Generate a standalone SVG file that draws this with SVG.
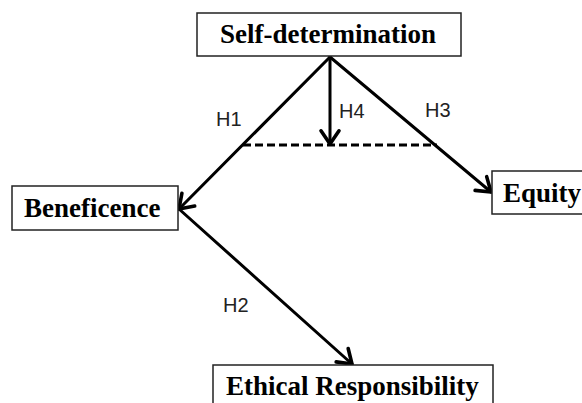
<svg xmlns="http://www.w3.org/2000/svg" width="582" height="403" viewBox="0 0 582 403">
<style>
.box{fill:#fff;stroke:#222;stroke-width:1.5}
.lbl{font-family:"Liberation Serif","Times New Roman",serif;font-weight:bold;font-size:27px;fill:#000}
.h{font-family:"Liberation Sans",Arial,sans-serif;font-size:20px;fill:#222}
.c{stroke:#000;stroke-width:3;fill:none;stroke-linecap:round}
.d{stroke:#000;stroke-width:3;fill:none;stroke-dasharray:8 4}
</style>
<defs>
<marker id="arr" markerUnits="userSpaceOnUse" markerWidth="24" markerHeight="24" viewBox="-14 -10 16 20" refX="0" refY="0" orient="auto">
<path d="M-11,-7.5 L0,0 L-11,7.5" fill="none" stroke="#000" stroke-width="3" stroke-linecap="round" stroke-linejoin="round"/>
</marker>
</defs>
<rect width="582" height="403" fill="#fff"/>
<g id="connectors">
<line class="c" x1="330" y1="57" x2="179" y2="209" marker-end="url(#arr)"/>
<line class="c" x1="330" y1="57" x2="491" y2="192" marker-end="url(#arr)"/>
<line class="c" x1="330" y1="57" x2="330" y2="144" marker-end="url(#arr)"/>
<line class="c" x1="179" y1="209" x2="352" y2="364" marker-end="url(#arr)"/>
<line class="d" x1="243" y1="145" x2="437" y2="145"/>
<text class="h" x="216" y="126">H1</text>
<text class="h" x="339" y="118">H4</text>
<text class="h" x="425" y="117">H3</text>
<text class="h" x="223" y="312">H2</text>
</g>
<g id="self-determination">
<rect class="box" x="197" y="13" width="264" height="43"/>
<text class="lbl" x="328" y="43" text-anchor="middle">Self-determination</text>
</g>
<g id="beneficence">
<rect class="box" x="12" y="186" width="166" height="44"/>
<text class="lbl" x="24" y="217">Beneficence</text>
</g>
<g id="equity">
<rect class="box" x="492" y="171" width="95" height="43"/>
<text class="lbl" x="503" y="202">Equity</text>
</g>
<g id="ethical-responsibility">
<rect class="box" x="213" y="365" width="280" height="50"/>
<text class="lbl" x="226" y="395">Ethical Responsibility</text>
</g>
</svg>
